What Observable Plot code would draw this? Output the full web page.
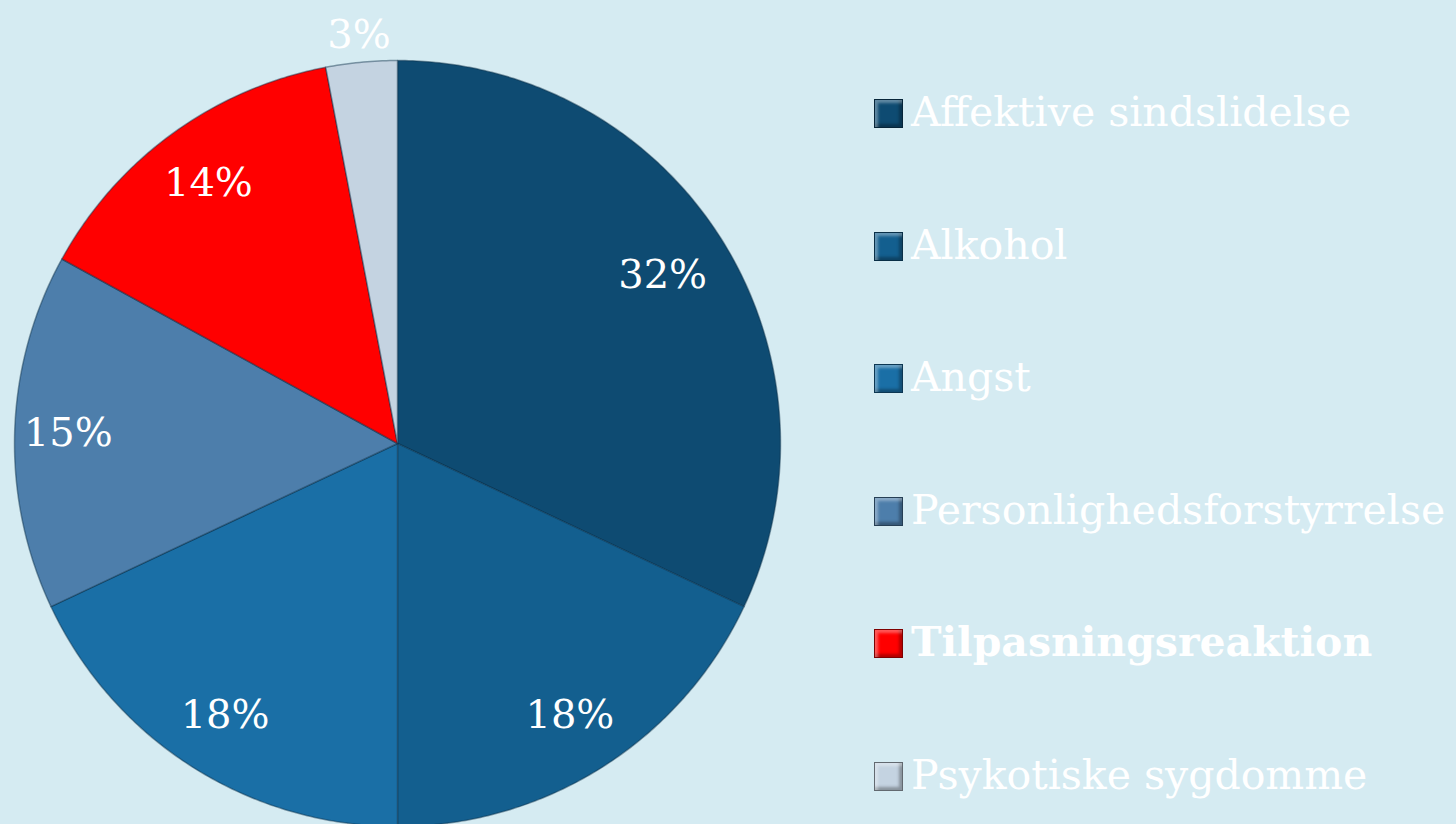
<!DOCTYPE html>
<html>
<head>
<meta charset="utf-8">
<script src="https://cdn.jsdelivr.net/npm/d3@7"></script>
<script src="https://cdn.jsdelivr.net/npm/@observablehq/plot@0.6"></script>
<style>
  html, body { margin: 0; padding: 0; background: #d5ebf2; }
  #wrap { position: relative; width: 1456px; height: 824px; overflow: hidden; background: #d5ebf2; }
  #legend { position: absolute; left: 874px; top: 80px; font-family: "DejaVu Serif", Georgia, serif; color: #ffffff; }
  .item { height: 132.5px; display: flex; align-items: flex-start; font-size: 41px; line-height: 64px; white-space: nowrap; }
  .sw { flex: none; width: 29px; height: 29px; margin-right: 8px; margin-top: 19px; box-sizing: border-box; border: 1px solid rgba(0,0,0,0.5); box-shadow: inset 3px 3px 3px rgba(255,255,255,0.35), inset -3px -3px 3px rgba(0,0,0,0.3); }
</style>
</head>
<body>
<div id="wrap"></div>
<script>
const categories = ["Affektive sindslidelse", "Alkohol", "Angst", "Personlighedsforstyrrelse", "Tilpasningsreaktion", "Psykotiske sygdomme"];
const shares = [32, 18, 18, 15, 14, 3];
const labels = ["32%", "18%", "18%", "15%", "14%", "3%"];
const colors = ["#0e4b72", "#135f8f", "#1a6fa6", "#4d7eab", "#ff0000", "#c4d3e1"];
const bold = [false, false, false, false, true, false];

const pie = d3.pie().sort(null).value(d => d.share)(categories.map((c, i) => ({cat: c, share: shares[i], label: labels[i]})));

// Build polygon outlines in data coordinates (unit circle, angle clockwise from top)
const outline = [];
for (const s of pie) {
  const n = Math.max(4, Math.ceil((s.endAngle - s.startAngle) / 0.01));
  outline.push({cat: s.data.cat, x: 0, y: 0});
  for (let k = 0; k <= n; k++) {
    const a = s.startAngle + (s.endAngle - s.startAngle) * k / n;
    outline.push({cat: s.data.cat, x: Math.sin(a), y: Math.cos(a)});
  }
  outline.push({cat: s.data.cat, x: 0, y: 0});
}
const labelPts = pie.map(s => {
  const a = (s.startAngle + s.endAngle) / 2;
  const r = s.data.share < 5 ? 1.07 : (s.data.share === 15 ? 0.86 : (s.data.share > 30 ? 0.82 : 0.84));
  return {label: s.data.label, x: r * Math.sin(a), y: r * Math.cos(a)};
});

const plot = Plot.plot({
  width: 1456,
  height: 824,
  margin: 0,
  style: {background: "transparent", overflow: "visible"},
  x: {domain: [-1, 1], range: [14, 780], axis: null},
  y: {domain: [-1, 1], range: [826, 60], axis: null},
  color: {domain: categories, range: colors},
  marks: [
    Plot.line(outline, {x: "x", y: "y", z: "cat", fill: "cat", stroke: "#0a2f48", strokeOpacity: 0.45, strokeWidth: 1.5, curve: "linear"}),
    Plot.text(labelPts, {x: "x", y: "y", text: "label", fill: "white", fontSize: 40, fontFamily: "'DejaVu Serif', Georgia, serif"})
  ]
});
const wrap = document.getElementById("wrap");
wrap.appendChild(plot);

const legend = document.createElement("div");
legend.id = "legend";
categories.forEach((c, i) => {
  const it = document.createElement("div");
  it.className = "item";
  const sw = document.createElement("span");
  sw.className = "sw";
  sw.style.background = colors[i];
  const t = document.createElement("span");
  t.textContent = c;
  if (bold[i]) t.style.fontWeight = "bold";
  it.appendChild(sw); it.appendChild(t);
  legend.appendChild(it);
});
wrap.appendChild(legend);
</script>
</body>
</html>
